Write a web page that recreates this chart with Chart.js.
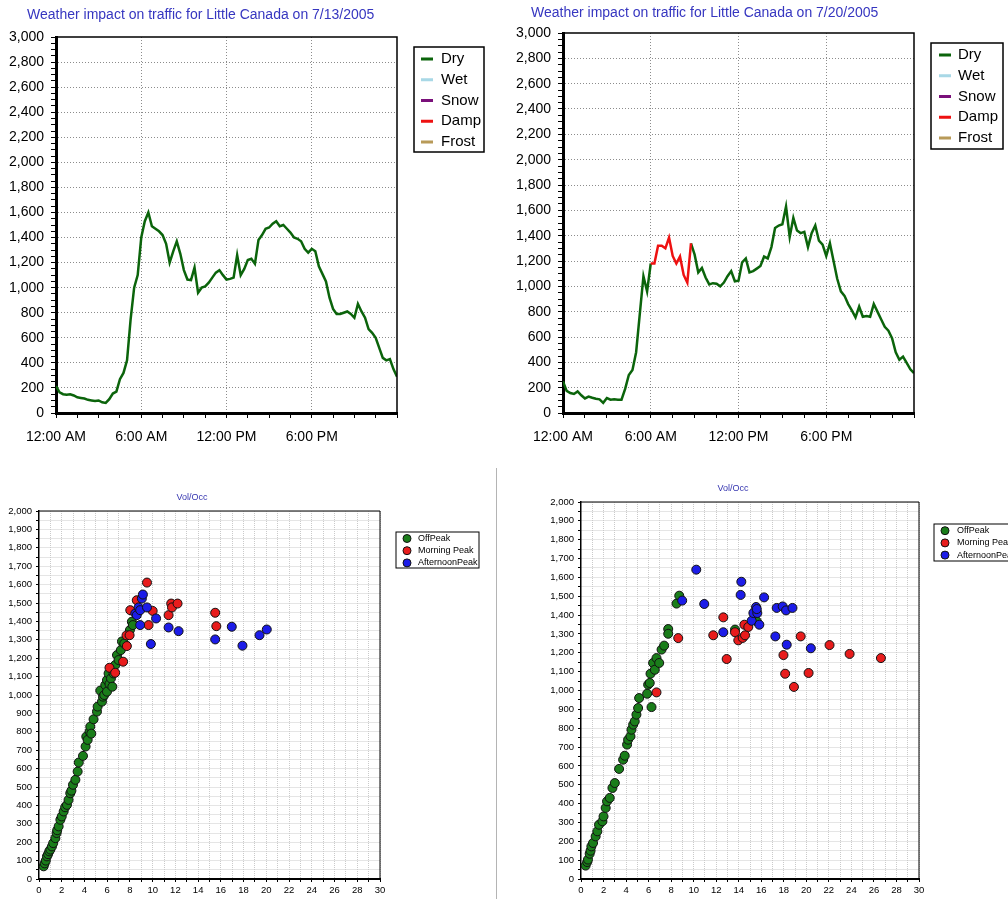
<!DOCTYPE html>
<html>
<head>
<meta charset="utf-8">
<title>Little Canada traffic</title>
<script src="https://cdn.jsdelivr.net/npm/chart.js@4.4.1/dist/chart.umd.min.js"></script>
<style>
  html, body { margin: 0; padding: 0; background: #fff; overflow: hidden; }
  body { width: 1008px; height: 899px; position: relative; }
  canvas { position: absolute; }
  .divider { position: absolute; left: 496px; top: 468px; width: 1px; height: 431px; background: #b4b4b4; }
</style>
</head>
<body>
<canvas id="day1" width="500" height="450" style="left:0;top:0"></canvas>
<canvas id="day2" width="508" height="450" style="left:500px;top:0"></canvas>
<div class="divider"></div>
<canvas id="occ1" width="496" height="429" style="left:0;top:470px"></canvas>
<canvas id="occ2" width="508" height="429" style="left:500px;top:470px"></canvas>

<script>
// weather conditions and their line colours
const weatherTypes = ['Dry', 'Wet', 'Snow', 'Damp', 'Frost'];
const weatherColors = ['#0b640b', '#a8d8e6', '#7a107a', '#ee1111', '#b89a58'];

// time axis: one reading every 15 minutes, labels every 6 hours
const stepMinutes = 15;
const tickHours = [0, 6, 12, 18];
const tickLabels = ['12:00 AM', '6:00 AM', '12:00 PM', '6:00 PM'];

// volume per reading, 7/13/2005 (all dry)
const dry0713 = [
  215, 165, 150, 146, 150, 140, 125, 120, 115, 105,
  100, 95, 100, 85, 80, 110, 155, 170, 270, 320,
  420, 745, 1000, 1100, 1400, 1530, 1600, 1490, 1470, 1450,
  1420, 1350, 1200, 1290, 1370, 1270, 1140, 1065, 1060, 1160,
  960, 1000, 1010, 1040, 1080, 1120, 1140, 1100, 1065, 1070,
  1080, 1260, 1100, 1150, 1220, 1230, 1190, 1380, 1420, 1470,
  1480, 1510, 1530, 1490, 1500, 1470, 1440, 1400, 1390, 1370,
  1310, 1280, 1310, 1290, 1170, 1110, 1050, 920, 830, 790,
  790, 800, 810, 790, 760, 870, 810, 760, 670, 640,
  600, 520, 440, 420, 430, 350, 290
];

// volume per reading, 7/20/2005 (damp in the morning peak)
const dry0720 = [
  250, 175, 158, 150, 170, 140, 115, 130, 120, 112,
  108, 80, 118, 105, 108, 105, 105, 190, 300, 340,
  480, 780, 1080, 960, 1180, null, null, null, null, null,
  null, null, null, null, null, 1340, 1250, 1110, 1145, 1070,
  1015, 1025, 1020, 1000, 1030, 1080, 1120, 1040, 1045, 1190,
  1220, 1110, 1120, 1140, 1160, 1235, 1220, 1310, 1460, 1480,
  1490, 1630, 1390, 1540, 1440, 1420, 1430, 1310, 1420, 1480,
  1360, 1330, 1240, 1340, 1200, 1060, 960, 925, 860, 810,
  755, 840, 760, 765, 760, 860, 800, 740, 680, 650,
  590, 480, 420, 445, 395, 345, 315
];
const damp0720Start = 24;
const damp0720 = [1180, 1180, 1320, 1320, 1300, 1385, 1240, 1180, 1235, 1090, 1030, 1340];

// volume vs occupancy groups
const peakGroups = ['OffPeak', 'Morning Peak', 'AfternoonPeak'];
const peakColors = ['#1a7d1a', '#e81c1c', '#1c1ce8'];

const offPeak0713 = [
  [0.41, 69], [0.5, 85], [0.6, 100], [0.7, 123], [0.8, 135], [0.9, 150], [1.0, 160], [1.14, 177],
  [1.25, 195], [1.44, 222], [1.55, 250], [1.6, 265], [1.73, 286], [1.88, 322], [2.0, 340], [2.17, 367],
  [2.3, 390], [2.46, 403], [2.6, 430], [2.75, 466], [2.85, 480], [2.99, 512], [3.2, 539], [3.4, 584],
  [3.5, 633], [3.87, 669], [4.1, 720], [4.16, 774], [4.28, 756], [4.45, 801], [4.51, 828], [4.6, 790],
  [4.8, 868], [5.1, 910], [5.16, 937], [5.39, 1024], [5.54, 964], [5.63, 991], [5.74, 1000], [5.83, 1054],
  [5.98, 1018], [5.98, 1081], [6.12, 1117], [6.2, 1060], [6.33, 1090], [6.45, 1045], [6.56, 1117], [6.71, 1163],
  [6.86, 1217], [7.0, 1190], [7.2, 1244], [7.3, 1291], [7.5, 1280], [8.0, 1353], [8.17, 1398], [8.26, 1380]
];
const morning0713 = [
  [6.2, 1148], [6.7, 1121], [7.4, 1181], [7.73, 1266], [7.7, 1324], [7.97, 1325], [8.03, 1461], [8.6, 1515],
  [9.5, 1611], [9.64, 1380], [10.0, 1457], [11.4, 1434], [11.63, 1497], [11.7, 1476], [12.19, 1497],
  [15.5, 1447], [15.6, 1374]
];
const afternoon0713 = [
  [8.47, 1443], [8.6, 1434], [8.76, 1476], [8.9, 1461], [9.05, 1524], [9.14, 1546], [8.9, 1380], [9.5, 1476],
  [9.84, 1277], [10.3, 1416], [11.4, 1367], [12.28, 1347], [15.5, 1302], [16.96, 1371], [17.9, 1268],
  [19.4, 1325], [20.04, 1356]
];

const offPeak0720 = [
  [0.41, 71], [0.55, 90], [0.62, 103], [0.77, 134], [0.85, 150], [0.92, 173], [1.07, 191], [1.3, 226],
  [1.45, 253], [1.6, 288], [1.9, 306], [2.0, 332], [2.19, 377], [2.31, 412], [2.55, 430], [2.79, 483],
  [3.0, 509], [3.38, 584], [3.74, 633], [3.88, 654], [4.09, 713], [4.18, 739], [4.39, 757], [4.48, 792],
  [4.63, 819], [4.77, 836], [4.92, 872], [5.07, 907], [5.16, 960], [5.87, 983], [5.96, 1031], [6.1, 1040],
  [6.17, 1089], [6.26, 912], [6.4, 1146], [6.55, 1110], [6.7, 1172], [6.94, 1146], [7.15, 1217], [7.38, 1238],
  [7.74, 1326], [7.74, 1301], [8.48, 1461], [8.72, 1503], [13.67, 1323], [15.6, 1367]
];
const morning0720 = [
  [6.7, 990], [8.63, 1278], [11.74, 1293], [12.63, 1388], [12.93, 1167], [13.67, 1309], [13.96, 1266],
  [14.35, 1279], [14.56, 1293], [14.5, 1349], [14.85, 1337], [17.97, 1188], [18.12, 1089], [18.9, 1019],
  [19.5, 1287], [20.2, 1093], [22.06, 1241], [23.84, 1194], [26.62, 1172]
];
const afternoon0720 = [
  [8.98, 1477], [10.23, 1641], [10.94, 1459], [12.63, 1309], [14.17, 1507], [14.23, 1577], [15.15, 1370],
  [15.3, 1411], [15.54, 1443], [15.65, 1411], [15.6, 1432], [15.83, 1349], [16.25, 1494], [17.25, 1287],
  [17.37, 1438], [17.9, 1446], [18.2, 1425], [18.26, 1243], [18.77, 1438], [20.4, 1224]
];

const FONT = '"Liberation Sans", Arial, sans-serif';

// turn a run of readings into {x: hour, y: volume} points
function toPoints(values, start = 0) {
  return values.map((v, i) => ({ x: (start + i) * stepMinutes / 60, y: v }));
}

// thin top/right edge of the plot box
const frame = {
  id: 'frame',
  afterDraw(chart, args, o) {
    const { ctx, chartArea: a } = chart;
    ctx.save();
    ctx.strokeStyle = '#000';
    ctx.lineWidth = o.width;
    ctx.beginPath();
    ctx.moveTo(a.left, a.top);
    ctx.lineTo(a.right, a.top);
    ctx.lineTo(a.right, a.bottom);
    ctx.stroke();
    ctx.restore();
  }
};

const titleText = {
  id: 'titleText',
  afterDraw(chart, args, o) {
    const ctx = chart.ctx;
    ctx.save();
    ctx.font = o.font;
    ctx.fillStyle = o.color;
    ctx.textAlign = o.align;
    ctx.textBaseline = 'middle';
    ctx.fillText(o.text, o.x, o.y);
    ctx.restore();
  }
};

// boxed legend beside the plot
const boxLegend = {
  id: 'boxLegend',
  afterDraw(chart, args, o) {
    const ctx = chart.ctx;
    ctx.save();
    ctx.strokeStyle = '#000';
    ctx.lineWidth = o.border;
    ctx.strokeRect(o.x, o.y, o.w, o.h);
    ctx.font = o.font;
    ctx.textBaseline = 'middle';
    chart.data.datasets.forEach((ds, i) => {
      const y = o.rowY + i * o.rowGap;
      if (o.marker === 'line') {
        ctx.fillStyle = ds.borderColor;
        ctx.fillRect(o.markX, y - 1.5, 12, 3);
      } else {
        ctx.beginPath();
        ctx.arc(o.markX, y, 4, 0, Math.PI * 2);
        ctx.fillStyle = ds.backgroundColor;
        ctx.fill();
        ctx.lineWidth = 1;
        ctx.strokeStyle = '#111';
        ctx.stroke();
      }
      ctx.fillStyle = '#000';
      ctx.fillText(ds.label, o.textX, y);
    });
    ctx.restore();
  }
};

function dayChart(id, o) {
  const gridAt = (every, lo, hi) => c =>
    (c.tick && c.tick.value % every === 0 && c.tick.value > lo && c.tick.value < hi) ? '#8c8c8c' : 'rgba(0,0,0,0)';
  return new Chart(document.getElementById(id), {
    type: 'line',
    data: {
      datasets: weatherTypes.map((name, k) => ({
        label: name,
        data: o.series[k],
        borderColor: weatherColors[k],
        backgroundColor: weatherColors[k],
        borderWidth: 2.5,
        pointRadius: 0,
        tension: 0,
        spanGaps: false,
        order: name === 'Damp' ? 0 : 1
      }))
    },
    options: {
      responsive: false,
      animation: false,
      events: [],
      layout: { padding: { left: 0, top: o.top, right: o.right, bottom: 0 } },
      plugins: {
        legend: { display: false },
        tooltip: { enabled: false },
        frame: { width: 1.5 },
        titleText: { text: o.title, x: o.titleX, y: o.titleY, align: 'left', font: '14px ' + FONT, color: '#3636c0' },
        boxLegend: Object.assign({ marker: 'line', border: 1.5, font: '15px ' + FONT, rowGap: 20.75 }, o.legend)
      },
      scales: {
        x: {
          type: 'linear', min: 0, max: 24,
          afterFit: s => { s.height = 37; },
          ticks: {
            stepSize: 1.5, autoSkip: false, maxRotation: 0, padding: 11,
            color: '#000', font: { family: FONT, size: 14 },
            callback: v => { const k = tickHours.indexOf(v); return k >= 0 ? tickLabels[k] : ''; }
          },
          grid: { color: gridAt(6, 0, 24), lineWidth: 1, tickLength: 5, tickColor: '#000', tickWidth: 1, tickBorderDash: [] },
          border: { display: true, color: '#000', width: 3, dash: [1, 2] }
        },
        y: {
          min: 0, max: 3000,
          afterFit: s => { s.width = o.left; },
          ticks: {
            stepSize: 50, autoSkip: false, padding: 7,
            color: '#000', font: { family: FONT, size: 14 },
            callback: v => v % 200 === 0 ? v.toLocaleString('en-US') : ''
          },
          grid: { color: gridAt(200, 0, 3000), lineWidth: 1, tickLength: 5, tickColor: '#000', tickWidth: 1, tickBorderDash: [] },
          border: { display: true, color: '#000', width: 3, dash: [1, 2] }
        }
      }
    },
    plugins: [frame, titleText, boxLegend]
  });
}

function occChart(id, o) {
  const minorGrid = c => (c.tick && c.tick.value > 0) ? '#cacaca' : 'rgba(0,0,0,0)';
  return new Chart(document.getElementById(id), {
    type: 'scatter',
    data: {
      datasets: peakGroups.map((name, k) => ({
        label: name,
        data: o.groups[k].map(p => ({ x: p[0], y: p[1] })),
        backgroundColor: peakColors[k],
        borderColor: '#111',
        borderWidth: 1,
        pointRadius: 4.5,
        order: 3 - k
      }))
    },
    options: {
      responsive: false,
      animation: false,
      events: [],
      layout: { padding: { left: 0, top: o.top, right: o.right, bottom: 0 } },
      plugins: {
        legend: { display: false },
        tooltip: { enabled: false },
        frame: { width: 1 },
        titleText: { text: 'Vol/Occ', x: o.titleX, y: o.titleY, align: 'center', font: '9px ' + FONT, color: '#3535b0' },
        boxLegend: Object.assign({ marker: 'dot', border: 1, font: '9px ' + FONT, rowGap: 12.2 }, o.legend)
      },
      scales: {
        x: {
          type: 'linear', min: 0, max: 30,
          afterFit: s => { s.height = 20; },
          ticks: {
            stepSize: 1, autoSkip: false, maxRotation: 0, padding: 3,
            color: '#000', font: { family: FONT, size: 9.5 },
            callback: v => v % 2 === 0 ? String(v) : ''
          },
          grid: { color: minorGrid, lineWidth: 1, tickLength: 3, tickColor: '#000', tickWidth: 1, tickBorderDash: [] },
          border: { display: true, color: '#000', width: 2, dash: [1, 1] }
        },
        y: {
          min: 0, max: 2000,
          afterFit: s => { s.width = o.left; },
          ticks: {
            stepSize: 50, autoSkip: false, padding: 4,
            color: '#000', font: { family: FONT, size: 9.5 },
            callback: v => v % 100 === 0 ? v.toLocaleString('en-US') : ''
          },
          grid: { color: minorGrid, lineWidth: 1, tickLength: 3, tickColor: '#000', tickWidth: 1, tickBorderDash: [] },
          border: { display: true, color: '#000', width: 1.5, dash: [1, 1] }
        }
      }
    },
    plugins: [frame, titleText, boxLegend]
  });
}

dayChart('day1', {
  title: 'Weather impact on traffic for Little Canada on 7/13/2005',
  titleX: 27, titleY: 15,
  left: 56, top: 37, right: 103,
  series: [toPoints(dry0713), [], [], [], []],
  legend: { x: 414, y: 47, w: 70, h: 105, rowY: 59, markX: 421, textX: 441 }
});

dayChart('day2', {
  title: 'Weather impact on traffic for Little Canada on 7/20/2005',
  titleX: 31, titleY: 13,
  left: 63, top: 33, right: 94,
  series: [toPoints(dry0720), [], [], toPoints(damp0720, damp0720Start), []],
  legend: { x: 431, y: 43, w: 72, h: 106, rowY: 55, markX: 439, textX: 458 }
});

occChart('occ1', {
  titleX: 192, titleY: 28,
  left: 39, top: 41, right: 116,
  groups: [offPeak0713, morning0713, afternoon0713],
  legend: { x: 396, y: 62, w: 83, h: 36, rowY: 68.5, markX: 407, textX: 418 }
});

occChart('occ2', {
  titleX: 233, titleY: 19,
  left: 81, top: 32, right: 89,
  groups: [offPeak0720, morning0720, afternoon0720],
  legend: { x: 434, y: 54, w: 84, h: 37, rowY: 60.7, markX: 445, textX: 457 }
});
</script>
</body>
</html>
